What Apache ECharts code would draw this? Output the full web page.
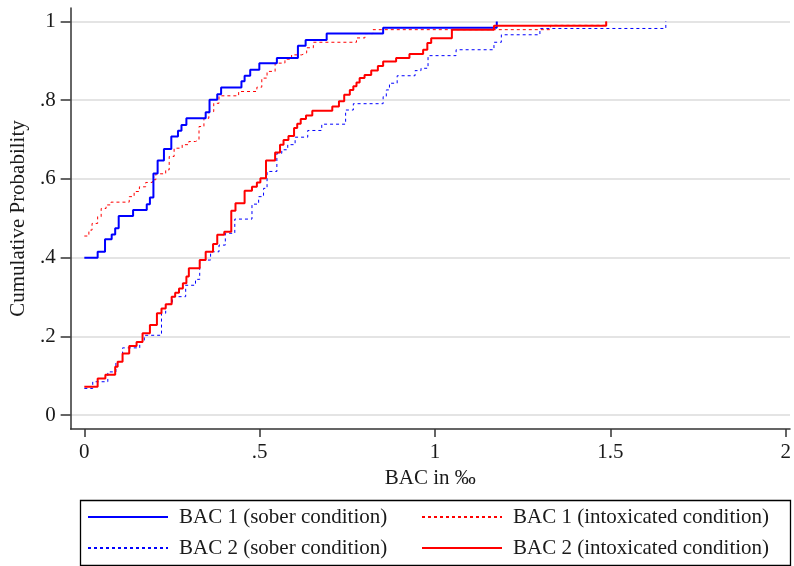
<!DOCTYPE html>
<html>
<head>
<meta charset="utf-8">
<script src="https://cdn.jsdelivr.net/npm/echarts@6/dist/echarts.min.js"></script>
<style>
  html, body { margin: 0; padding: 0; background: #fff; }
  #chart { width: 794px; height: 566px; }
</style>
</head>
<body>
<div id="chart"></div>
<script>
// BAC values (x) where each cumulative curve jumps, and the level after the jump (y)
var bac1SoberX = [0, 0.038, 0.059, 0.078, 0.088, 0.098, 0.139, 0.178, 0.187, 0.197, 0.209, 0.227, 0.248, 0.267, 0.277, 0.291, 0.346, 0.357, 0.379, 0.390, 0.448, 0.457, 0.473, 0.499, 0.549, 0.609, 0.631, 0.691, 0.852, 1.176];
var bac1SoberY = [0.400, 0.415, 0.447, 0.459, 0.475, 0.506, 0.521, 0.536, 0.553, 0.614, 0.647, 0.676, 0.708, 0.722, 0.737, 0.754, 0.769, 0.801, 0.815, 0.832, 0.848, 0.862, 0.877, 0.894, 0.907, 0.938, 0.953, 0.969, 0.984, 1.000];

var bac1IntoxX = [0, 0.013, 0.022, 0.038, 0.048, 0.062, 0.076, 0.128, 0.142, 0.157, 0.175, 0.194, 0.204, 0.232, 0.242, 0.256, 0.279, 0.298, 0.317, 0.327, 0.341, 0.355, 0.369, 0.384, 0.440, 0.492, 0.506, 0.521, 0.544, 0.572, 0.591, 0.620, 0.634, 0.653, 0.776, 0.800, 0.823, 1.329, 1.488];
var bac1IntoxY = [0.455, 0.470, 0.487, 0.504, 0.525, 0.534, 0.541, 0.555, 0.568, 0.580, 0.591, 0.598, 0.613, 0.623, 0.657, 0.678, 0.687, 0.695, 0.699, 0.733, 0.754, 0.771, 0.792, 0.811, 0.822, 0.833, 0.856, 0.873, 0.894, 0.904, 0.915, 0.920, 0.933, 0.947, 0.958, 0.969, 0.979, 0.990, 1.000];

var bac2SoberX = [0, 0.024, 0.067, 0.090, 0.109, 0.158, 0.171, 0.220, 0.232, 0.251, 0.289, 0.317, 0.329, 0.360, 0.384, 0.402, 0.429, 0.478, 0.497, 0.511, 0.521, 0.549, 0.563, 0.580, 0.601, 0.637, 0.677, 0.745, 0.767, 0.852, 0.861, 0.870, 0.892, 0.943, 0.960, 0.980, 1.060, 1.168, 1.189, 1.299, 1.658];
var bac2SoberY = [0.068, 0.085, 0.110, 0.136, 0.171, 0.186, 0.203, 0.259, 0.282, 0.301, 0.330, 0.345, 0.394, 0.415, 0.432, 0.462, 0.498, 0.536, 0.555, 0.576, 0.619, 0.665, 0.674, 0.687, 0.706, 0.723, 0.739, 0.775, 0.791, 0.809, 0.826, 0.843, 0.862, 0.875, 0.881, 0.913, 0.928, 0.947, 0.966, 0.982, 1.000];

var bac2IntoxX = [0, 0.038, 0.060, 0.088, 0.095, 0.109, 0.128, 0.149, 0.166, 0.187, 0.207, 0.220, 0.232, 0.249, 0.259, 0.270, 0.281, 0.291, 0.298, 0.329, 0.346, 0.367, 0.379, 0.399, 0.419, 0.431, 0.457, 0.478, 0.492, 0.502, 0.518, 0.544, 0.558, 0.568, 0.582, 0.598, 0.607, 0.617, 0.632, 0.650, 0.707, 0.726, 0.741, 0.757, 0.767, 0.776, 0.785, 0.799, 0.818, 0.837, 0.852, 0.889, 0.927, 0.966, 0.978, 0.989, 1.048, 1.168, 1.488];
var bac2IntoxY = [0.072, 0.093, 0.103, 0.123, 0.136, 0.157, 0.176, 0.186, 0.208, 0.229, 0.259, 0.271, 0.282, 0.301, 0.311, 0.322, 0.335, 0.352, 0.373, 0.394, 0.415, 0.435, 0.458, 0.466, 0.519, 0.538, 0.570, 0.580, 0.591, 0.602, 0.647, 0.667, 0.687, 0.699, 0.709, 0.729, 0.740, 0.752, 0.761, 0.773, 0.784, 0.797, 0.814, 0.826, 0.835, 0.845, 0.856, 0.864, 0.875, 0.887, 0.898, 0.907, 0.917, 0.928, 0.945, 0.957, 0.979, 0.989, 1.000];

var xTicks = [0, 0.5, 1, 1.5, 2];
var yTicks = [0, 0.2, 0.4, 0.6, 0.8, 1];

var seriesNames = [
  'BAC 1 (sober condition)',
  'BAC 1 (intoxicated condition)',
  'BAC 2 (sober condition)',
  'BAC 2 (intoxicated condition)'
];

var FONT = '"Liberation Serif", "Times New Roman", serif';
var TXT = '#1a1a1a';

function pairs(xs, ys) {
  return xs.map(function (x, i) { return [x, ys[i]]; });
}
// Stata style labels: .5 instead of 0.5
function stataNum(v) {
  return v === 0 ? '0' : String(v).replace(/^0\./, '.');
}

var chart = echarts.init(document.getElementById('chart'), null, { renderer: 'canvas' });

var legendBase = {
  orient: 'vertical',
  top: 505,
  padding: 0,
  itemGap: 7,
  itemWidth: 80, itemHeight: 14,
  itemStyle: { opacity: 0 },
  textStyle: { fontFamily: FONT, fontSize: 21, color: TXT, lineHeight: 24, padding: [0, 0, 0, 6] }
};

var option = {
  animation: false,
  backgroundColor: '#ffffff',
  grid: { left: 68, right: 4, top: 8, bottom: 137, containLabel: false },
  xAxis: {
    type: 'value',
    min: -0.039,
    max: 2.012,
    name: 'BAC in ‰',
    nameLocation: 'middle',
    nameGap: 32,
    nameTextStyle: { fontFamily: FONT, fontSize: 21, color: TXT },
    axisLine: { onZero: false, lineStyle: { color: '#333', width: 1.5 } },
    axisTick: { customValues: xTicks, length: 8, lineStyle: { color: '#333', width: 1.5 } },
    axisLabel: {
      customValues: xTicks,
      margin: 13,
      fontFamily: FONT, fontSize: 21, color: TXT,
      formatter: stataNum
    },
    splitLine: { show: false }
  },
  yAxis: {
    type: 'value',
    min: -0.035,
    max: 1.034,
    name: 'Cumulative Probability',
    nameLocation: 'middle',
    nameGap: 40,
    nameTextStyle: { fontFamily: FONT, fontSize: 21, color: TXT },
    axisLine: { onZero: false, lineStyle: { color: '#333', width: 1.5 } },
    axisTick: { customValues: yTicks, length: 10, lineStyle: { color: '#333', width: 1.5 } },
    axisLabel: {
      customValues: yTicks,
      margin: 15,
      fontFamily: FONT, fontSize: 21, color: TXT,
      formatter: stataNum
    },
    splitLine: { show: true, lineStyle: { color: '#e4e4e4', width: 1.8 } }
  },
  legend: [
    Object.assign({}, legendBase, { left: 87, data: [seriesNames[0], seriesNames[2]] }),
    Object.assign({}, legendBase, { left: 421, data: [seriesNames[1], seriesNames[3]] })
  ],
  graphic: [
    {
      type: 'rect',
      left: 78, top: 498,
      shape: { width: 710, height: 65 },
      style: { fill: 'none', stroke: '#000', lineWidth: 1.3 },
      silent: true
    }
  ],
  series: [
    {
      name: seriesNames[1],
      type: 'line', step: 'end', symbol: 'none', z: 2,
      data: pairs(bac1IntoxX, bac1IntoxY),
      color: '#ff0000',
      lineStyle: { color: '#ff0000', width: 1, type: [3, 3] }
    },
    {
      name: seriesNames[2],
      type: 'line', step: 'end', symbol: 'none', z: 2,
      data: pairs(bac2SoberX, bac2SoberY),
      color: '#0000ff',
      lineStyle: { color: '#0000ff', width: 1, type: [3, 3] }
    },
    {
      name: seriesNames[0],
      type: 'line', step: 'end', symbol: 'none', z: 3,
      data: pairs(bac1SoberX, bac1SoberY),
      color: '#0000ff',
      lineStyle: { color: '#0000ff', width: 2 }
    },
    {
      name: seriesNames[3],
      type: 'line', step: 'end', symbol: 'none', z: 3,
      data: pairs(bac2IntoxX, bac2IntoxY),
      color: '#ff0000',
      lineStyle: { color: '#ff0000', width: 2 }
    }
  ]
};

chart.setOption(option);
</script>
</body>
</html>
